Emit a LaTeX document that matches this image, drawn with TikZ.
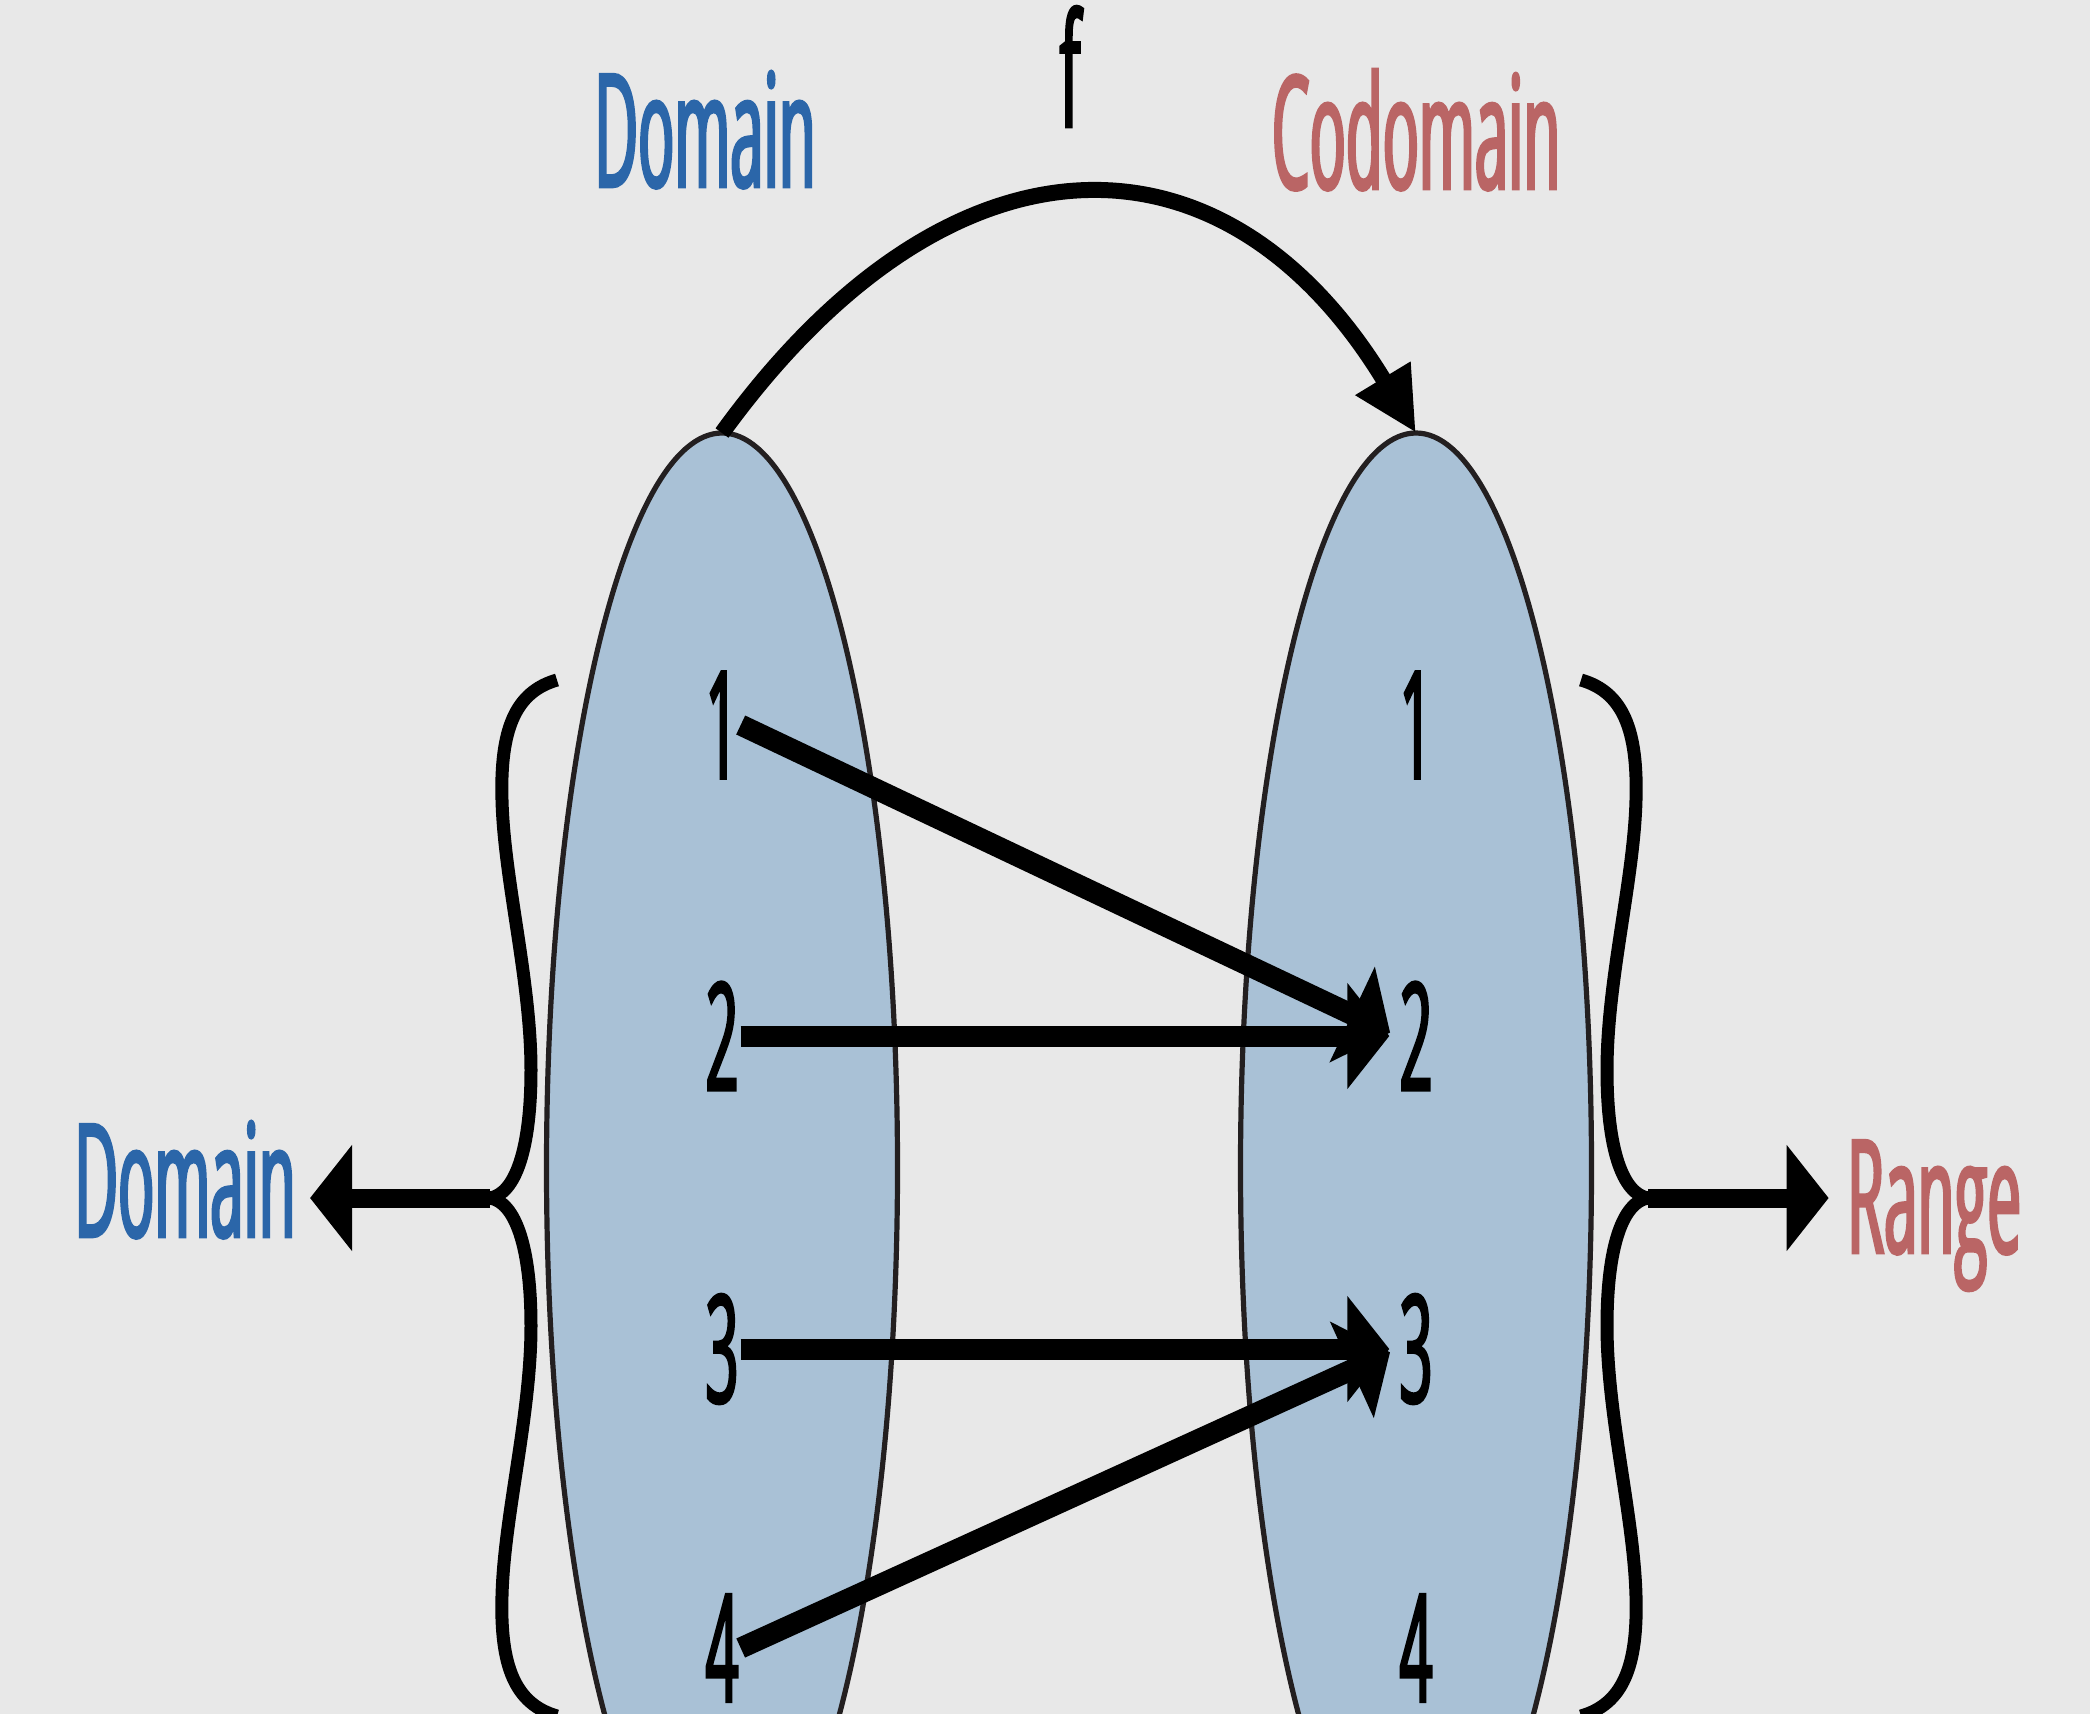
\documentclass[tikz,border=0pt]{standalone}
\usepackage{fontspec}
\newfontfamily\narrowfont{Open Sans}[FakeStretch=0.38,FakeBold=1.8]
\usetikzlibrary{shapes.geometric,arrows.meta}
\definecolor{bggray}{HTML}{E8E8E8}
\definecolor{setfill}{HTML}{A9C1D6}
\definecolor{setline}{HTML}{231F20}
\definecolor{domblue}{HTML}{2B66A9}
\definecolor{codred}{HTML}{BA6565}

\begin{document}
\begin{tikzpicture}[x=0.5pt, y=-0.5pt,
  setshape/.style={ellipse, draw=setline, fill=setfill, line width=2.6pt,
    minimum width=175.5pt, minimum height=735pt, inner sep=0pt, outer sep=0pt},
  elem/.style={font=\narrowfont\fontsize{75}{76}\selectfont, inner sep=1pt},
  lbl/.style={font=\narrowfont\fontsize{79}{80}\selectfont, anchor=base, inner sep=2pt},
  maparrow/.style={line width=10.5pt, shorten >=4pt, -{Triangle[length=21pt,width=52pt]}},
  bracestroke/.style={line width=6.5pt},
  bracearrow/.style={line width=9.5pt, shorten >=5pt, -{Triangle[length=21pt,width=52pt]}}
  ]
  \useasboundingbox (0,0) rectangle (2090,1714);
  \fill[bggray] (0,0) rectangle (2090,1714);
  \clip (0,0) rectangle (2090,1714);

  \node[setshape] (dom) at (722,1168) {};
  \node[setshape] (cod) at (1416,1168) {};

  \foreach \n/\y in {1/725,2/1036,3/1349,4/1648}{
    \node[elem] (d\n) at (722,\y) {\n};
    \node[elem] (c\n) at (1416,\y) {\n};
  }

  \draw[maparrow] (d1.east) -- (c2.west);
  \draw[maparrow] (d2.east) -- (c2.west);
  \draw[maparrow] (d3.east) -- (c3.west);
  \draw[maparrow] (d4.east) -- (c3.west);

  \node[lbl, text=domblue] (setdom) at (705,187) {Domain};
  \node[lbl, text=codred] (setcod) at (1416,189) {Codomain};
  \node[lbl] (fname) at (1070,127) {f};
  \draw[line width=8pt, -{Triangle[length=32pt,width=30pt]}]
    (dom.north) .. controls (950,118) and (1225,118) .. (cod.north);

  \coordinate (lcusp) at (490,1198);
  \coordinate (rcusp) at (1648,1198);
  \draw[bracestroke] (557,680) .. controls (515,692) and (500,730) .. (502,800)
    .. controls (504,880) and (531,980) .. (531,1070)
    .. controls (531,1150) and (515,1194) .. (lcusp)
    .. controls (515,1202) and (531,1246) .. (531,1326)
    .. controls (531,1416) and (504,1516) .. (502,1596)
    .. controls (500,1666) and (515,1704) .. (557,1716);
  \draw[bracestroke] (1581,680) .. controls (1623,692) and (1638,730) .. (1636,800)
    .. controls (1634,880) and (1607,980) .. (1607,1070)
    .. controls (1607,1150) and (1623,1194) .. (rcusp)
    .. controls (1623,1202) and (1607,1246) .. (1607,1326)
    .. controls (1607,1416) and (1634,1516) .. (1636,1596)
    .. controls (1638,1666) and (1623,1704) .. (1581,1716);

  \node[lbl, text=domblue] (domlbl) at (185,1237) {Domain};
  \node[lbl, text=codred] (rnglbl) at (1934,1253) {Range};
  \draw[bracearrow] (lcusp) -- (lcusp -| domlbl.east);
  \draw[bracearrow, shorten >=7pt] (rcusp) -- (rcusp -| rnglbl.west);
\end{tikzpicture}
\end{document}
